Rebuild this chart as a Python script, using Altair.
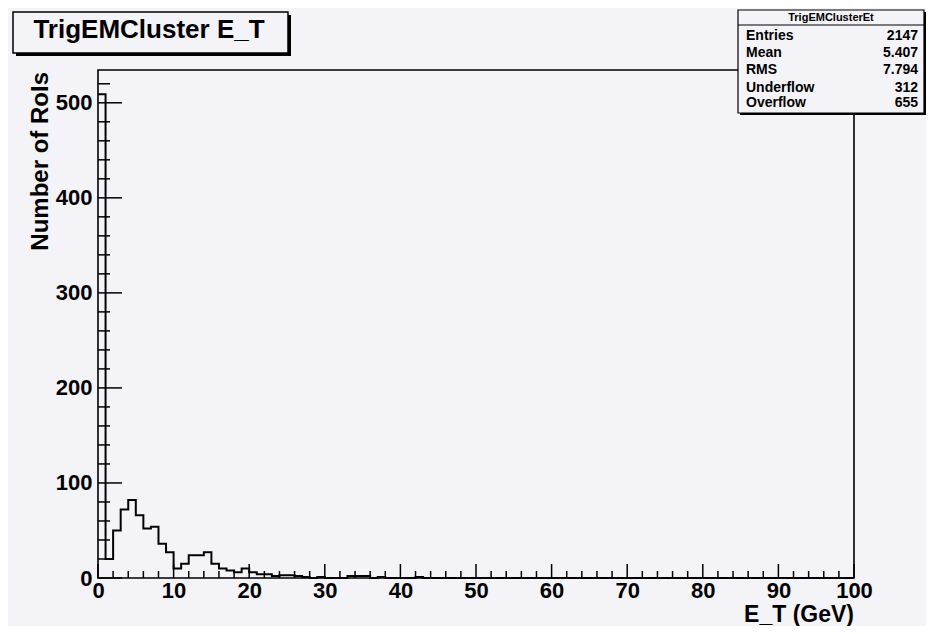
import altair as alt
import pandas as pd

# ---------------- data ----------------
bin_edges = list(range(0, 101))  # 100 bins of 1 GeV from 0 to 100
counts = [509, 20, 50, 72, 82, 66, 52, 54, 36, 27,
          10, 15, 24, 24, 27, 15, 10, 8, 6, 10,
          6, 4, 4, 2, 3, 3, 2, 1, 0, 1,
          0, 0, 0, 2, 2, 2, 0, 1, 0, 0,
          0, 0, 1, 0, 0, 0, 0, 0, 0, 0] + [0] * 50

x_major = list(range(0, 101, 10))
x_minor = [v for v in range(0, 101, 2) if v % 10 != 0]
y_major = list(range(0, 501, 100))
y_minor = [v for v in range(0, 521, 20) if v % 100 != 0]

title_text = "TrigEMCluster E_T"
x_title = "E_T (GeV)"
y_title = "Number of RoIs"
stats_title = "TrigEMClusterEt"
stats_labels = ["Entries", "Mean", "RMS", "Underflow", "Overflow"]
stats_values = ["2147", "5.407", "7.794", "312", "655"]

# ---------------- styling ----------------
BG = "#f4f3f7"
FONT = "Liberation Sans"
W, H = 756, 508
YMAX = 534.5

hist = pd.DataFrame({"edge": bin_edges, "count": counts + [counts[-1]]})
xs = alt.Scale(domain=[0, 100], nice=False, zero=False)
ys = alt.Scale(domain=[0, YMAX], nice=False, zero=True)

ax_x = alt.Axis(values=x_major, ticks=False, domain=False, grid=False,
                labelFont=FONT, labelFontWeight="bold", labelFontSize=22,
                labelColor="#000", labelPadding=2, labelFlush=False, title=None)
ax_y = alt.Axis(values=y_major, ticks=False, domain=False, grid=False,
                labelFont=FONT, labelFontWeight="bold", labelFontSize=22,
                labelColor="#000", labelPadding=6, labelFlush=False,
                labelBaseline="middle", title=None)

line = alt.Chart(hist).mark_line(
    interpolate="step-after", color="#000", strokeWidth=2
).encode(
    x=alt.X("edge:Q", scale=xs, axis=ax_x),
    y=alt.Y("count:Q", scale=ys, axis=ax_y),
)

def xticks(vals, length):
    return alt.Chart(pd.DataFrame({"edge": vals})).mark_rule(color="#000", strokeWidth=1.5).encode(
        x=alt.X("edge:Q", scale=xs, axis=ax_x),
        y=alt.value(H - length), y2=alt.value(H))

def yticks(vals, length):
    return alt.Chart(pd.DataFrame({"count": vals})).mark_rule(color="#000", strokeWidth=1.5).encode(
        y=alt.Y("count:Q", scale=ys, axis=ax_y),
        x=alt.value(0), x2=alt.value(length))

one = pd.DataFrame({"d": [0]})

def rect(x, x2, y, y2, fill, stroke=None, sw=0):
    kw = dict(fill=fill)
    if stroke:
        kw.update(stroke=stroke, strokeWidth=sw)
    return alt.Chart(one).mark_rect(**kw).encode(
        x=alt.value(x), x2=alt.value(x2), y=alt.value(y), y2=alt.value(y2))

def text(t, x, y, size, align="left", angle=0, weight="bold"):
    kw = dict(text=t, font=FONT, fontSize=size, fontWeight=weight, color="#000",
              align=align, baseline="alphabetic")
    if angle:
        kw["angle"] = angle
    return alt.Chart(one).mark_text(**kw).encode(x=alt.value(x), y=alt.value(y))

layers = [line,
          xticks(x_major, 14), xticks(x_minor, 7),
          yticks(y_major, 24), yticks(y_minor, 12)]

# title box
layers += [rect(-82, 193, -55, -14, "#000"),
           rect(-85, 190, -58, -17, BG, "#000", 1.5),
           text(title_text, 51, -32, 26, align="center")]

# stats box
bx0, bx1, by0, by1 = 640, 826, -60, 43
layers += [rect(bx0 + 2, bx1 + 2, by0 + 2, by1 + 2, "#000"),
           rect(bx0, bx1, by0, by1, BG, "#000", 1.2),
           alt.Chart(one).mark_rule(color="#000", strokeWidth=1).encode(
               x=alt.value(bx0), x2=alt.value(bx1), y=alt.value(-45)),
           text(stats_title, (bx0 + bx1) / 2, -49, 11, align="center")]
row_y = [-30.5, -13, 4, 21.5, 36.5]
for lab, val, yy in zip(stats_labels, stats_values, row_y):
    layers.append(text(lab, 648, yy, 14))
    layers.append(text(val, 820, yy, 14, align="right"))

# axis titles
layers += [text(x_title, W, 552, 23, align="right"),
           text(y_title, -50, 2, 24, align="right", angle=270)]

chart = alt.layer(*layers).properties(
    width=W, height=H,
    autosize=alt.AutoSizeParams(type="none"),
    padding={"left": 90, "top": 62, "right": 72, "bottom": 48},
    background=BG,
).configure_view(stroke="#000", strokeWidth=1.6)

chart.save("out.html", embed_options={"renderer": "svg", "actions": False})
